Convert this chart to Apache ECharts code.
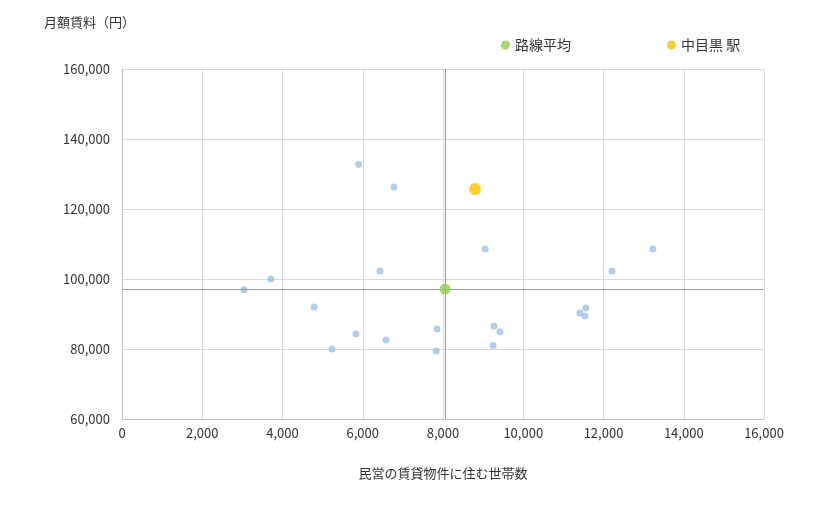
<!DOCTYPE html>
<html><head><meta charset="utf-8">
<script src="https://cdn.jsdelivr.net/npm/echarts@6/dist/echarts.min.js"></script>
<style>html,body{margin:0;padding:0;background:#fff}#c{width:820px;height:510px}</style>
</head><body><div id="c"></div>
<script>
const stationX = [5900,6780,9050,6430,3710,3040,4790,5830,5230,6580,7850,7830,9270,9420,9250,11410,11560,11540,12210,13230];
const stationY = [132800,126300,108600,102300,100000,96900,92000,84300,80000,82600,85700,79400,86600,84900,81000,90300,91700,89400,102300,108600];
const avgPoint = [8050, 97100];
const targetPoint = [8800, 125700];
const legendNames = ['路線平均','中目黒 駅'];
const font = 'Verdana, "Noto Sans CJK JP", sans-serif';
const chart = echarts.init(document.getElementById('c'));
chart.setOption({
  animation:false,
  textStyle:{fontFamily:font},
  legend:{data:legendNames, top:33, left:496, itemGap:96, icon:'circle', itemWidth:9, itemHeight:9,
    textStyle:{fontSize:14,color:'#333',fontFamily:font}},
  grid:{left:122,right:56,top:69,bottom:91},
  xAxis:{type:'value',min:0,max:16000,interval:2000,name:'民営の賃貸物件に住む世帯数',nameLocation:'middle',nameGap:48,
    nameTextStyle:{fontSize:13,color:'#333'},
    axisLine:{lineStyle:{color:'#bfbfbf'}},axisTick:{show:false},
    axisLabel:{fontSize:13,color:'#333',formatter:v=>v.toLocaleString('en-US')},
    splitLine:{lineStyle:{color:'#d9d9d9'}}},
  yAxis:{type:'value',min:60000,max:160000,interval:20000,name:'月額賃料（円）',nameLocation:'end',nameGap:40,
    nameTextStyle:{fontSize:13,color:'#333',align:'left',padding:[0,0,0,-78]},
    axisLine:{show:true,lineStyle:{color:'#bfbfbf'}},axisTick:{show:false},
    axisLabel:{fontSize:13,color:'#333',margin:12,formatter:v=>v.toLocaleString('en-US')},
    splitLine:{lineStyle:{color:'#d9d9d9'}}},
  series:[
    {name:'駅',type:'scatter',symbolSize:7,itemStyle:{color:'#9dc3e6'},
     data:stationX.map((x,i)=>[x,stationY[i]])},
    {name:legendNames[0],type:'scatter',symbolSize:11,itemStyle:{color:'#8fce4a'},z:5,
     data:[avgPoint],
     markLine:{silent:true,symbol:'none',label:{show:false},lineStyle:{color:'#9a9a9a',type:'solid',width:1},
       data:[{xAxis:avgPoint[0]},{yAxis:avgPoint[1]}]}},
    {name:legendNames[1],type:'scatter',symbolSize:12,itemStyle:{color:'#ffc000'},z:5,data:[targetPoint]}
  ]
});
</script></body></html>
